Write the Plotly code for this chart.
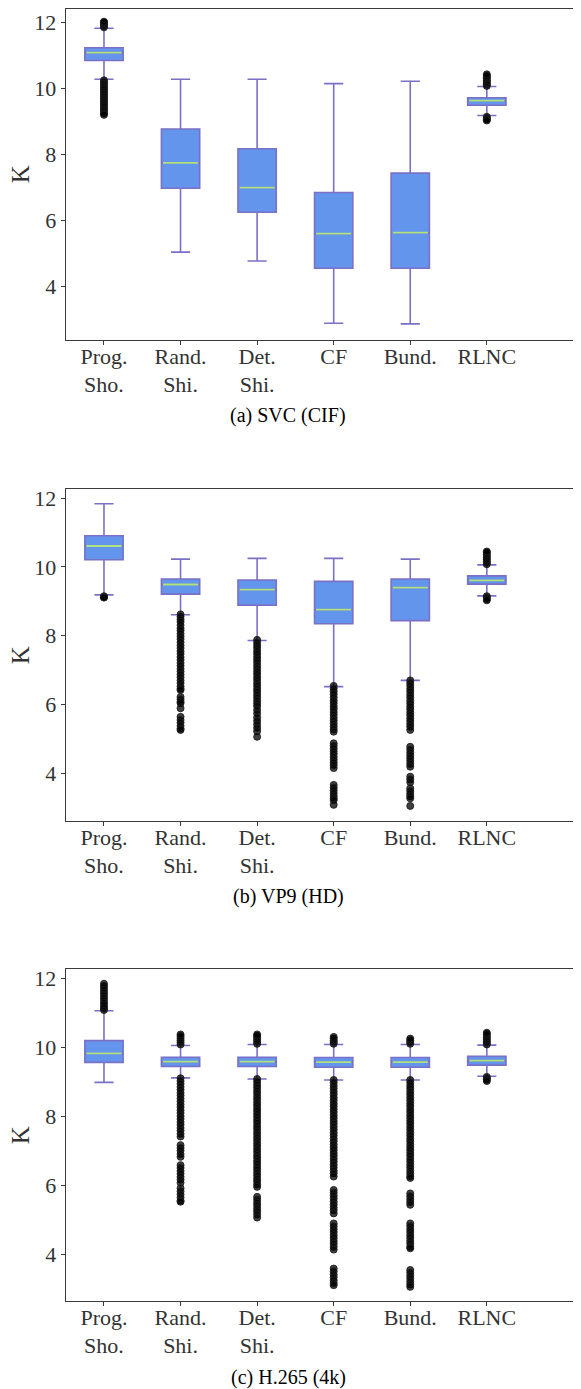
import plotly.graph_objects as go

# The page body has an 8px default margin, so the figure is laid out in
# screen coordinates minus that offset.
OFF = 8
SCREEN_W, SCREEN_H = 581, 1389
W, H = SCREEN_W - OFF, SCREEN_H - OFF

categories = ["Prog.<br>Sho.", "Rand.<br>Shi.", "Det.<br>Shi.", "CF", "Bund.", "RLNC"]
positions = [1, 2, 3, 4, 5, 6]
captions = ["(a) SVC (CIF)", "(b) VP9 (HD)", "(c) H.265 (4k)"]
y_ticks = [4, 6, 8, 10, 12]

# ---- panel (a) SVC (CIF)
a_q1 = [10.85, 6.97, 6.24, 4.54, 4.54, 9.49]
a_med = [11.09, 7.74, 6.99, 5.59, 5.62, 9.63]
a_q3 = [11.24, 8.77, 8.17, 6.84, 7.43, 9.72]
a_lo = [10.28, 5.03, 4.76, 2.87, 2.85, 9.18]
a_hi = [11.83, 10.28, 10.28, 10.15, 10.22, 10.06]
a_out = [
    [11.86, 11.9, 11.94, 11.98, 12.01, 12.03,
     10.25, 10.2, 10.15, 10.1, 10.05, 10.0, 9.95, 9.9, 9.85, 9.8, 9.75, 9.7,
     9.65, 9.6, 9.55, 9.5, 9.45, 9.4, 9.35, 9.3, 9.25, 9.2],
    [],
    [],
    [],
    [],
    [10.08, 10.12, 10.16, 10.2, 10.25, 10.3, 10.34, 10.38, 10.43,
     9.14, 9.1, 9.06, 9.03],
]

# ---- panel (b) VP9 (HD)
b_q1 = [10.21, 9.21, 8.89, 8.35, 8.44, 9.50]
b_med = [10.61, 9.49, 9.34, 8.76, 9.40, 9.61]
b_q3 = [10.91, 9.65, 9.62, 9.58, 9.65, 9.74]
b_lo = [9.19, 8.61, 7.86, 6.52, 6.70, 9.16]
b_hi = [11.84, 10.23, 10.25, 10.25, 10.23, 10.06]
b_out = [
    [9.15, 9.12, 9.11],
    [8.62, 8.55, 8.47, 8.4, 8.31, 8.22, 8.15, 8.06, 7.98, 7.9, 7.81, 7.72, 7.64,
     7.55, 7.47, 7.38, 7.3, 7.21, 7.13, 7.04, 6.96, 6.87, 6.79, 6.7, 6.62, 6.53,
     6.46, 6.42, 6.22, 6.15, 6.08, 6.04, 5.89, 5.64, 5.55, 5.47, 5.38, 5.3, 5.26],
    [7.88, 7.8, 7.72, 7.64, 7.55, 7.47, 7.38, 7.3, 7.22, 7.13, 7.05, 6.96, 6.88,
     6.79, 6.71, 6.62, 6.54, 6.45, 6.37, 6.28, 6.2, 6.11, 6.03, 5.95,
     5.84, 5.74, 5.62, 5.52, 5.42, 5.32, 5.22, 5.06],
    [6.54, 6.46, 6.38, 6.3, 6.21, 6.12, 6.04, 5.95, 5.87, 5.78, 5.7, 5.61, 5.53,
     5.44, 5.36, 5.28, 5.21,
     4.87, 4.8, 4.72, 4.64, 4.56, 4.47, 4.39, 4.31, 4.24, 4.15,
     3.66, 3.58, 3.5, 3.42, 3.34, 3.27, 3.22, 3.08],
    [6.7, 6.62, 6.54, 6.45, 6.37, 6.28, 6.2, 6.11, 6.03, 5.94, 5.86, 5.77, 5.69,
     5.6, 5.52, 5.43, 5.35, 5.26,
     4.77, 4.69, 4.6, 4.52, 4.44, 4.36, 4.27, 4.19,
     3.9, 3.82, 3.74, 3.56, 3.48, 3.4, 3.33, 3.27, 3.05],
    [10.08, 10.12, 10.17, 10.22, 10.27, 10.32, 10.37, 10.42, 10.45,
     9.15, 9.11, 9.07, 9.03],
]

# ---- panel (c) H.265 (4k)
c_q1 = [9.56, 9.44, 9.44, 9.42, 9.42, 9.48]
c_med = [9.82, 9.58, 9.58, 9.57, 9.57, 9.61]
c_q3 = [10.19, 9.71, 9.71, 9.70, 9.70, 9.74]
c_lo = [8.98, 9.11, 9.08, 9.05, 9.05, 9.16]
c_hi = [11.06, 10.05, 10.08, 10.08, 10.08, 10.06]
c_out = [
    [11.08, 11.12, 11.18, 11.25, 11.32, 11.4, 11.47, 11.55, 11.62, 11.7, 11.77, 11.84],
    [10.08, 10.14, 10.2, 10.26, 10.32, 10.37,
     9.1, 9.02, 8.94, 8.85, 8.77, 8.68, 8.6, 8.51, 8.43, 8.34, 8.26, 8.17, 8.09,
     8.0, 7.92, 7.83, 7.75, 7.66, 7.58, 7.49, 7.41,
     7.16, 7.08, 7.0, 6.9, 6.82,
     6.58, 6.5, 6.41, 6.33, 6.24, 6.16, 6.07,
     5.91, 5.82, 5.73, 5.64, 5.55, 5.52],
    [10.1, 10.16, 10.22, 10.28, 10.33, 10.37,
     9.08, 9.0, 8.91, 8.83, 8.74, 8.66, 8.57, 8.49, 8.4, 8.32, 8.23, 8.15, 8.06,
     7.98, 7.89, 7.81, 7.72, 7.64, 7.55, 7.47, 7.38, 7.3, 7.21, 7.13, 7.04, 6.96,
     6.87, 6.79, 6.7, 6.62, 6.53, 6.45, 6.36, 6.28, 6.19, 6.11, 6.02, 5.95,
     5.66, 5.58, 5.49, 5.41, 5.32, 5.24, 5.15, 5.06],
    [10.1, 10.15, 10.2, 10.25, 10.3,
     9.05, 8.97, 8.88, 8.8, 8.71, 8.63, 8.54, 8.46, 8.37, 8.29, 8.2, 8.12, 8.03,
     7.95, 7.86, 7.78, 7.69, 7.61, 7.52, 7.44, 7.35, 7.27, 7.18, 7.1, 7.02, 6.93,
     6.85, 6.76, 6.68, 6.59, 6.51, 6.42, 6.34, 6.25,
     5.86, 5.78, 5.69, 5.61, 5.52, 5.44, 5.35, 5.27, 5.18,
     4.89, 4.81, 4.72, 4.64, 4.55, 4.47, 4.38, 4.3, 4.21, 4.13,
     3.58, 3.5, 3.41, 3.33, 3.24, 3.16, 3.1],
    [10.1, 10.15, 10.2, 10.25,
     9.05, 8.97, 8.88, 8.8, 8.71, 8.63, 8.54, 8.46, 8.37, 8.29, 8.2, 8.12, 8.03,
     7.95, 7.86, 7.78, 7.69, 7.61, 7.52, 7.44, 7.35, 7.27, 7.18, 7.1, 7.02, 6.93,
     6.85, 6.76, 6.68, 6.59, 6.51, 6.42, 6.34, 6.26, 6.21,
     5.76, 5.68, 5.59, 5.51, 5.43,
     4.89, 4.81, 4.72, 4.64, 4.55, 4.47, 4.38, 4.3, 4.21, 4.17,
     3.54, 3.46, 3.37, 3.29, 3.2, 3.12, 3.05],
    [10.08, 10.13, 10.18, 10.23, 10.28, 10.33, 10.38, 10.42,
     9.14, 9.1, 9.06, 9.02],
]

panels = [
    dict(q1=a_q1, med=a_med, q3=a_q3, lo=a_lo, hi=a_hi, out=a_out),
    dict(q1=b_q1, med=b_med, q3=b_q3, lo=b_lo, hi=b_hi, out=b_out),
    dict(q1=c_q1, med=c_med, q3=c_q3, lo=c_lo, hi=c_hi, out=c_out),
]

# ---- styling / layout (pixel geometry in screen coordinates)
BOX_FILL = "#6495ED"
BOX_LINE = "#7a70c6"
MEDIAN = "#aee37f"
AX = "#3a3a3a"
TICK_FONT = dict(family="Liberation Serif, Times New Roman, serif", size=22, color="#333333")
BOX_W = 0.5

plot_left, plot_right = 65.7, 581
panel_px = [(8.7, 340.0), (489.3, 821.0), (969.3, 1301.0)]
y_ranges = [[2.36, 12.425], [2.61, 12.26], [2.64, 12.26]]
x_range = [0.5, 7.23]
caption_y = [415.5, 897, 1377]
caption_x = 288
ylabel_x = 20


def px_x(sx):
    return (sx - OFF) / W


def px_y(sy):
    return (H - (sy - OFF)) / H


fig = go.Figure()
layout = dict(
    width=W, height=H, margin=dict(l=0, r=0, t=0, b=0, autoexpand=False),
    paper_bgcolor="white", plot_bgcolor="white", showlegend=False,
    annotations=[],
)

for i, p in enumerate(panels):
    sfx = "" if i == 0 else str(i + 1)
    xa, ya = "x" + sfx, "y" + sfx
    fig.add_trace(go.Box(
        x=positions, q1=p["q1"], median=p["med"], q3=p["q3"],
        lowerfence=p["lo"], upperfence=p["hi"],
        width=BOX_W, whiskerwidth=0.5, boxpoints=False,
        fillcolor=BOX_FILL, line=dict(color=BOX_LINE, width=1.6),
        xaxis=xa, yaxis=ya, hoverinfo="skip",
    ))
    # median lines
    mx, my = [], []
    for pos, m in zip(positions, p["med"]):
        mx += [pos - BOX_W / 2 + 0.02, pos + BOX_W / 2 - 0.02, None]
        my += [m, m, None]
    fig.add_trace(go.Scatter(x=mx, y=my, mode="lines",
                             line=dict(color=MEDIAN, width=1.8),
                             xaxis=xa, yaxis=ya, hoverinfo="skip"))
    # outliers
    ox, oy = [], []
    for pos, vals in zip(positions, p["out"]):
        ox += [pos] * len(vals)
        oy += vals
    fig.add_trace(go.Scatter(
        x=ox, y=oy, mode="markers",
        marker=dict(size=7, color="rgba(0,0,0,0.75)",
                    line=dict(color="rgba(30,30,30,0.9)", width=1)),
        xaxis=xa, yaxis=ya, hoverinfo="skip"))

    top, bot = panel_px[i]
    layout["xaxis" + sfx] = dict(
        domain=[px_x(plot_left), min(1.0, px_x(plot_right))], anchor=ya, range=x_range,
        tickmode="array", tickvals=positions, ticktext=categories,
        showline=True, linecolor=AX, linewidth=1.3, mirror=True,
        ticks="outside", ticklen=4, tickcolor=AX, tickwidth=1.2,
        ticklabelstandoff=-8,
        showgrid=False, zeroline=False, tickfont=TICK_FONT, automargin=False,
    )
    layout["yaxis" + sfx] = dict(
        domain=[px_y(bot), px_y(top)], anchor=xa, range=y_ranges[i],
        tickmode="array", tickvals=y_ticks, ticktext=[str(t) for t in y_ticks],
        showline=True, linecolor=AX, linewidth=1.3, mirror=False,
        ticks="outside", ticklen=4, tickcolor=AX, tickwidth=1.2,
        showgrid=False, zeroline=False, tickfont=TICK_FONT, automargin=False,
    )
    layout["annotations"].append(dict(
        text="K", textangle=-90, xref="paper", yref="paper",
        x=px_x(ylabel_x), y=px_y((top + bot) / 2), xanchor="center", yanchor="middle",
        showarrow=False,
        font=dict(family="Liberation Serif, serif", size=25, color="#333333"),
    ))
    layout["annotations"].append(dict(
        text=captions[i], xref="paper", yref="paper",
        x=px_x(caption_x), y=px_y(caption_y[i]), xanchor="center", yanchor="middle",
        showarrow=False,
        font=dict(family="Liberation Serif, Times New Roman, serif", size=20, color="black"),
    ))

fig.update_layout(**layout)
fig.write_html("out.html")
